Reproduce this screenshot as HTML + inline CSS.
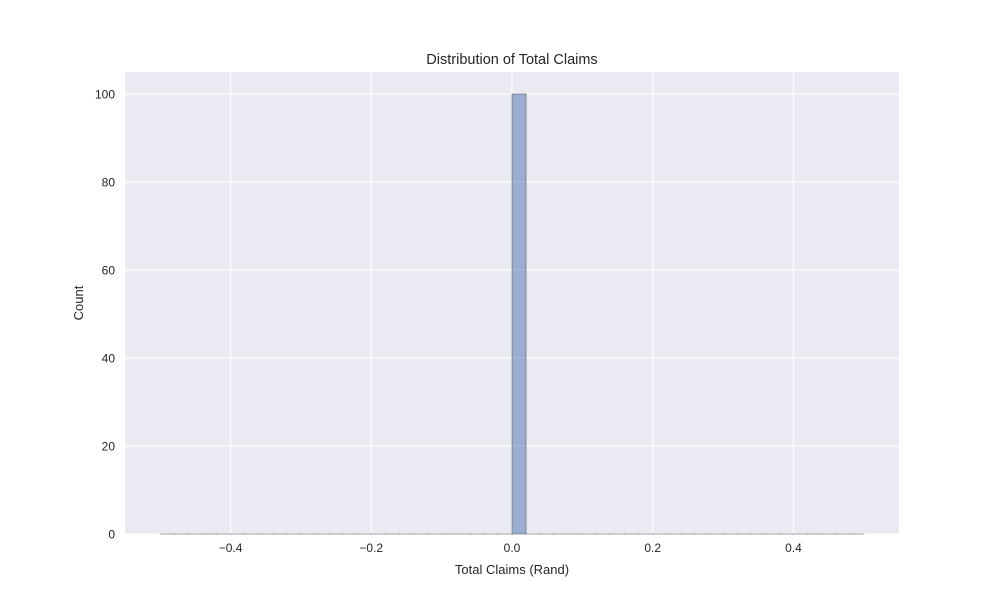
<!DOCTYPE html>
<html><head><meta charset="utf-8"><style>
body{margin:0;background:#fff;font-family:"Liberation Sans",sans-serif;}
svg text{font-family:"Liberation Sans",sans-serif;fill:#262626;}
</style></head><body>
<svg width="1000" height="600">
<rect x="125" y="72" width="774" height="462" fill="#eaeaf2"/>
<g id="grid"></g>
<g id="bars"></g>
<g id="ticks"></g>
<text x="512" y="64" font-size="14.5" text-anchor="middle">Distribution of Total Claims</text>
<text x="512" y="574" font-size="13" text-anchor="middle">Total Claims (Rand)</text>
<text x="83" y="303" font-size="13" text-anchor="middle" transform="rotate(-90 83 303)">Count</text>
</svg>
<script>
const binEdgesStart = -0.5;
const binWidth = 0.02;
const counts = [0,0,0,0,0,0,0,0,0,0,0,0,0,0,0,0,0,0,0,0,0,0,0,0,0,100,0,0,0,0,0,0,0,0,0,0,0,0,0,0,0,0,0,0,0,0,0,0,0,0];
const xTicks = [-0.4,-0.2,0.0,0.2,0.4];
const xTickLabels = ["\u22120.4","\u22120.2","0.0","0.2","0.4"];
const yTicks = [0,20,40,60,80,100];
const yTickLabels = ["0","20","40","60","80","100"];

const X0=125,X1=899,Y0=534,Y1=72,xmin=-0.55,xmax=0.55,ymin=0,ymax=105;
const xs=v=>X0+(v-xmin)/(xmax-xmin)*(X1-X0);
const ys=v=>Y0-(v-ymin)/(ymax-ymin)*(Y0-Y1);
const NS="http://www.w3.org/2000/svg";
function mk(tag,attrs,parent){const e=document.createElementNS(NS,tag);for(const k in attrs)e.setAttribute(k,attrs[k]);document.getElementById(parent).appendChild(e);return e;}
xTicks.forEach((t,i)=>{
  const g=mk('line',{x1:xs(t),x2:xs(t),y1:Y1,y2:Y0,stroke:'#fff','stroke-width':1.2},'grid');
  
  
  const l=mk('text',{x:xs(t),y:Y0+18,'font-size':12,'text-anchor':'middle'},'ticks');
  l.textContent=xTickLabels[i];
  
  
});
yTicks.forEach((t,i)=>{
  const g=mk('line',{x1:X0,x2:X1,y1:ys(t),y2:ys(t),stroke:'#fff','stroke-width':1.2},'grid');
  
  
  const l=mk('text',{x:X0-10,y:ys(t)+4.5,'font-size':12,'text-anchor':'end'},'ticks');
  l.textContent=yTickLabels[i];
  
  
});
counts.forEach((c,i)=>{
  const a=binEdgesStart+i*binWidth,b=a+binWidth;
  const r=mk('rect',{x:xs(a),y:ys(c),width:xs(b)-xs(a),height:Math.max(ys(0)-ys(c),0.01),fill:'rgba(76,114,176,0.5)',stroke:'rgba(60,60,60,0.45)','stroke-width':1},'bars');
  
  
});
</script>
</body></html>
